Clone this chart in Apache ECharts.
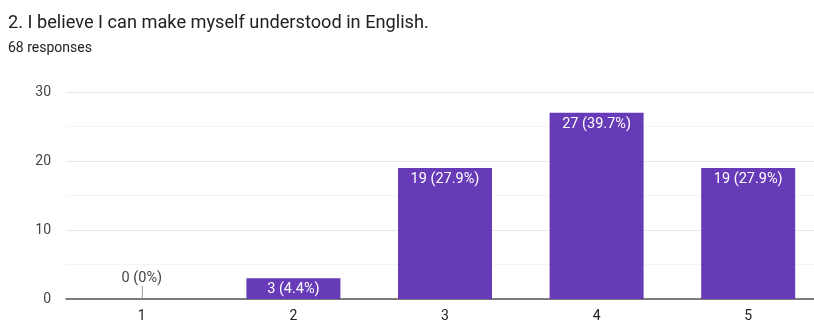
<!DOCTYPE html>
<html>
<head>
<meta charset="utf-8">
<script src="https://cdn.jsdelivr.net/npm/echarts@6/dist/echarts.min.js"></script>
<style>
  html, body { margin: 0; padding: 0; background: #fff; }
  #chart { width: 814px; height: 320px; }
</style>
</head>
<body>
<div id="chart"></div>
<script>
// Survey answers on a 1–5 scale
const titleText = '2. I believe I can make myself understood in English.';
const subtitleText = '68 responses';
const categories = ['1', '2', '3', '4', '5'];
const counts = [0, 3, 19, 27, 19];
const percents = ['0%', '4.4%', '27.9%', '39.7%', '27.9%'];
const yTicks = [0, 10, 20, 30];

const FONT = 'Roboto, "Noto Sans", Arial, sans-serif';
const PURPLE = '#673ab7';

const chart = echarts.init(document.getElementById('chart'), null, { renderer: 'canvas' });

const barData = counts.map((v, i) => ({
  value: v,
  label: v === 0
    ? { position: 'top', distance: 13, color: '#444', verticalAlign: 'bottom' }
    : {}
}));

chart.setOption({
  animation: false,
  title: [
    { text: titleText, left: 8, top: 14, padding: 0,
      textStyle: { fontFamily: FONT, fontSize: 18.2, fontWeight: 'normal', color: '#202124' } },
    { text: subtitleText, left: 8, top: 41, padding: 0,
      textStyle: { fontFamily: FONT, fontSize: 14, fontWeight: 'normal', color: '#202124' } }
  ],
  grid: { left: 66, top: 92, width: 758, height: 207, containLabel: false, outerBoundsMode: 'none' },
  xAxis: {
    type: 'category',
    data: categories,
    axisTick: { show: false },
    axisLine: { lineStyle: { color: '#555', width: 1.5 } },
    axisLabel: { fontFamily: FONT, fontSize: 14, color: '#222', margin: 10 }
  },
  yAxis: {
    type: 'value',
    min: yTicks[0],
    max: yTicks[yTicks.length - 1],
    interval: yTicks[1] - yTicks[0],
    axisLine: { show: false },
    axisTick: { show: false },
    axisLabel: { fontFamily: FONT, fontSize: 14, color: '#444', margin: 15 },
    splitLine: { lineStyle: { color: '#e8e8e8' } },
    minorTick: { show: false, splitNumber: 2 },
    minorSplitLine: { show: true, lineStyle: { color: '#f4f4f4' } }
  },
  series: [
    {
      type: 'bar',
      data: barData,
      barWidth: 94,
      itemStyle: { color: PURPLE },
      label: {
        show: true,
        position: 'insideTop',
        distance: 4,
        fontFamily: FONT,
        fontSize: 14.5,
        color: '#fff',
        formatter: p => p.value + ' (' + percents[p.dataIndex] + ')'
      },
      z: 2
    },
    {
      // short stem pointing to the label of empty categories
      type: 'custom',
      data: counts.map((v, i) => [i, v]),
      renderItem: (params, api) => {
        if (api.value(1) !== 0) return null;
        const p = api.coord([api.value(0), 0]);
        return {
          type: 'line',
          shape: { x1: p[0] + 0.5, y1: p[1], x2: p[0] + 0.5, y2: p[1] - 13 },
          style: { stroke: '#999', lineWidth: 1 }
        };
      },
      z: 3,
      silent: true
    }
  ]
});
</script>
</body>
</html>
